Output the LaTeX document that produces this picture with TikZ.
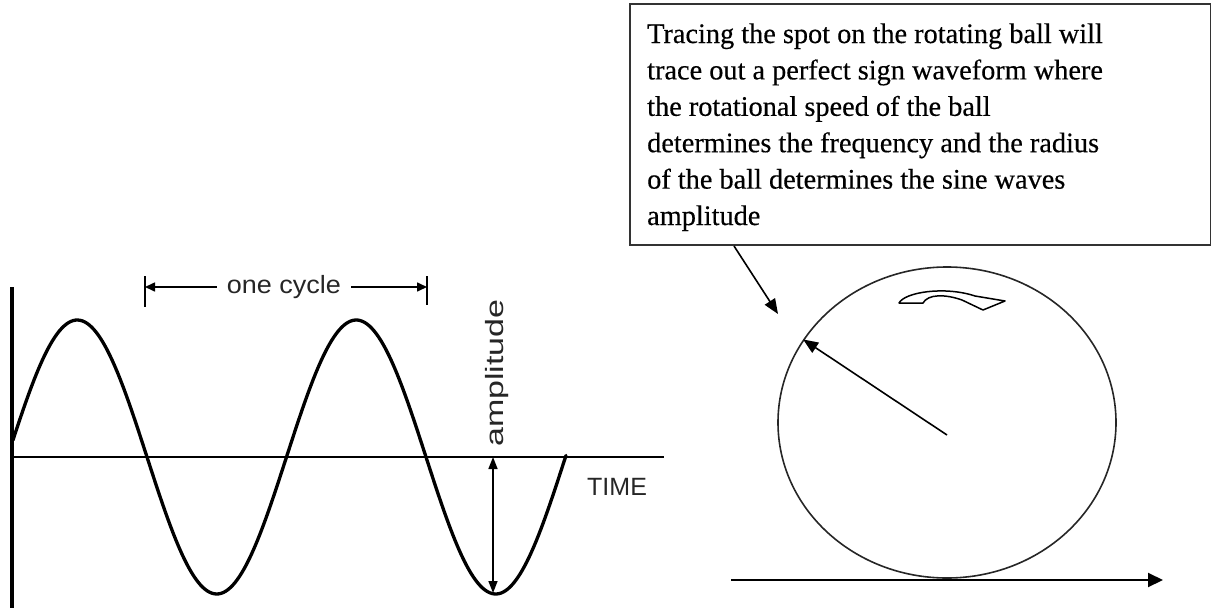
\documentclass[tikz,border=0pt]{standalone}
\usepackage{fontspec}
\setmainfont{Liberation Serif}
\newfontfamily\boxfont[FakeBold=0.4]{Liberation Serif}
\newfontfamily\arialf{Liberation Sans}
\usetikzlibrary{arrows.meta,shapes.geometric,calc}
\tikzset{
  wave/.style={line width=3.3pt,line join=round,line cap=round},
  axisline/.style={line width=2.2pt},
  thin arrow/.style={line width=1.6pt,-{Triangle[length=15pt,width=12pt]}},
  dimarrow/.style={line width=1.6pt,-{Triangle[length=10pt,width=9pt]}},
  ampar/.style={line width=1.6pt,{Triangle[length=12pt,width=9pt]}-{Triangle[length=12pt,width=9pt]}},
  lbl/.style={font=\arialf\fontsize{25}{30}\selectfont,inner sep=0pt,text=black!85},
}
\begin{document}
\begin{tikzpicture}[x=1pt,y=-1pt]
\useasboundingbox (0,0) rectangle (1211,608);
% ---- sine wave part ----
\coordinate (vtop) at (12,287);
\coordinate (vbot) at (12,608);
\coordinate (hleft) at (12,457);
\coordinate (hright) at (664,457);
\draw[line width=3.5pt] (vtop) -- (vbot);
\draw[axisline] (hleft) -- (hright);
\draw[wave] plot[domain=13:566,samples=240] (\x,{457-137*sin(1.290323*(\x-7.5))});
% one cycle dimension
\coordinate (lt) at (145,287);
\coordinate (rt) at (427,287);
\draw[line width=1.8pt] (145,276) -- (145,307);
\draw[line width=1.8pt] (427,276) -- (427,305);
\node[lbl,anchor=base,inner xsep=10pt] (oc) at (284,293) {\scalebox{1.08}[1]{one cycle}};
\draw[dimarrow] (oc.west |- lt) -- (lt);
\draw[dimarrow] (oc.east |- rt) -- (rt);
% amplitude
\node[lbl,anchor=base west,rotate=90] (amp) at (503,447) {\scalebox{1.36}[1]{amplitude}};
\coordinate (atop) at (493,457);
\coordinate (abot) at (493,593);
\draw[ampar] (atop) -- (abot);
\node[lbl,anchor=base west] (time) at (587,495) {TIME};
% ---- ball part ----
\node[draw,rectangle,line width=2pt,draw=black!80,minimum width=581pt,minimum height=241pt,anchor=north west,inner sep=0pt] (box) at (629,3) {};
\node[anchor=base west,inner sep=0pt] (desc) at (647,43) {\parbox[t]{560pt}{\boxfont\fontsize{28.3}{36.4}\selectfont\raggedright
Tracing the spot on the rotating ball will\\
trace out a perfect sign waveform where\\
the rotational speed of the ball\\
determines the frequency and the radius\\
of the ball determines the sine waves\\
amplitude}};
\coordinate (callouttip) at (778,314);
\draw[thin arrow] ([xshift=105pt]box.south west) -- (callouttip);
\node[draw,ellipse,line width=1.6pt,draw=black!85,minimum width=338pt,minimum height=311pt,inner sep=0pt] (ball) at (947,422.5) {};
\coordinate (hub) at (947,435);
\draw[thin arrow] (hub) -- (ball.150);
\coordinate (gl) at (731,580);
\coordinate (gr) at (1163,580);
\draw[line width=2pt,-{Triangle[length=15pt,width=14pt]}] (gl) -- (gr);
% rotation symbol
\draw[line width=1.5pt,line join=round] (899,303) .. controls (905,292) and (945,286) .. (975,296)
  -- (1005,301) -- (983,310) -- (962,300)
  .. controls (945,294) and (928,294) .. (923,303) -- cycle;
\end{tikzpicture}
\end{document}
